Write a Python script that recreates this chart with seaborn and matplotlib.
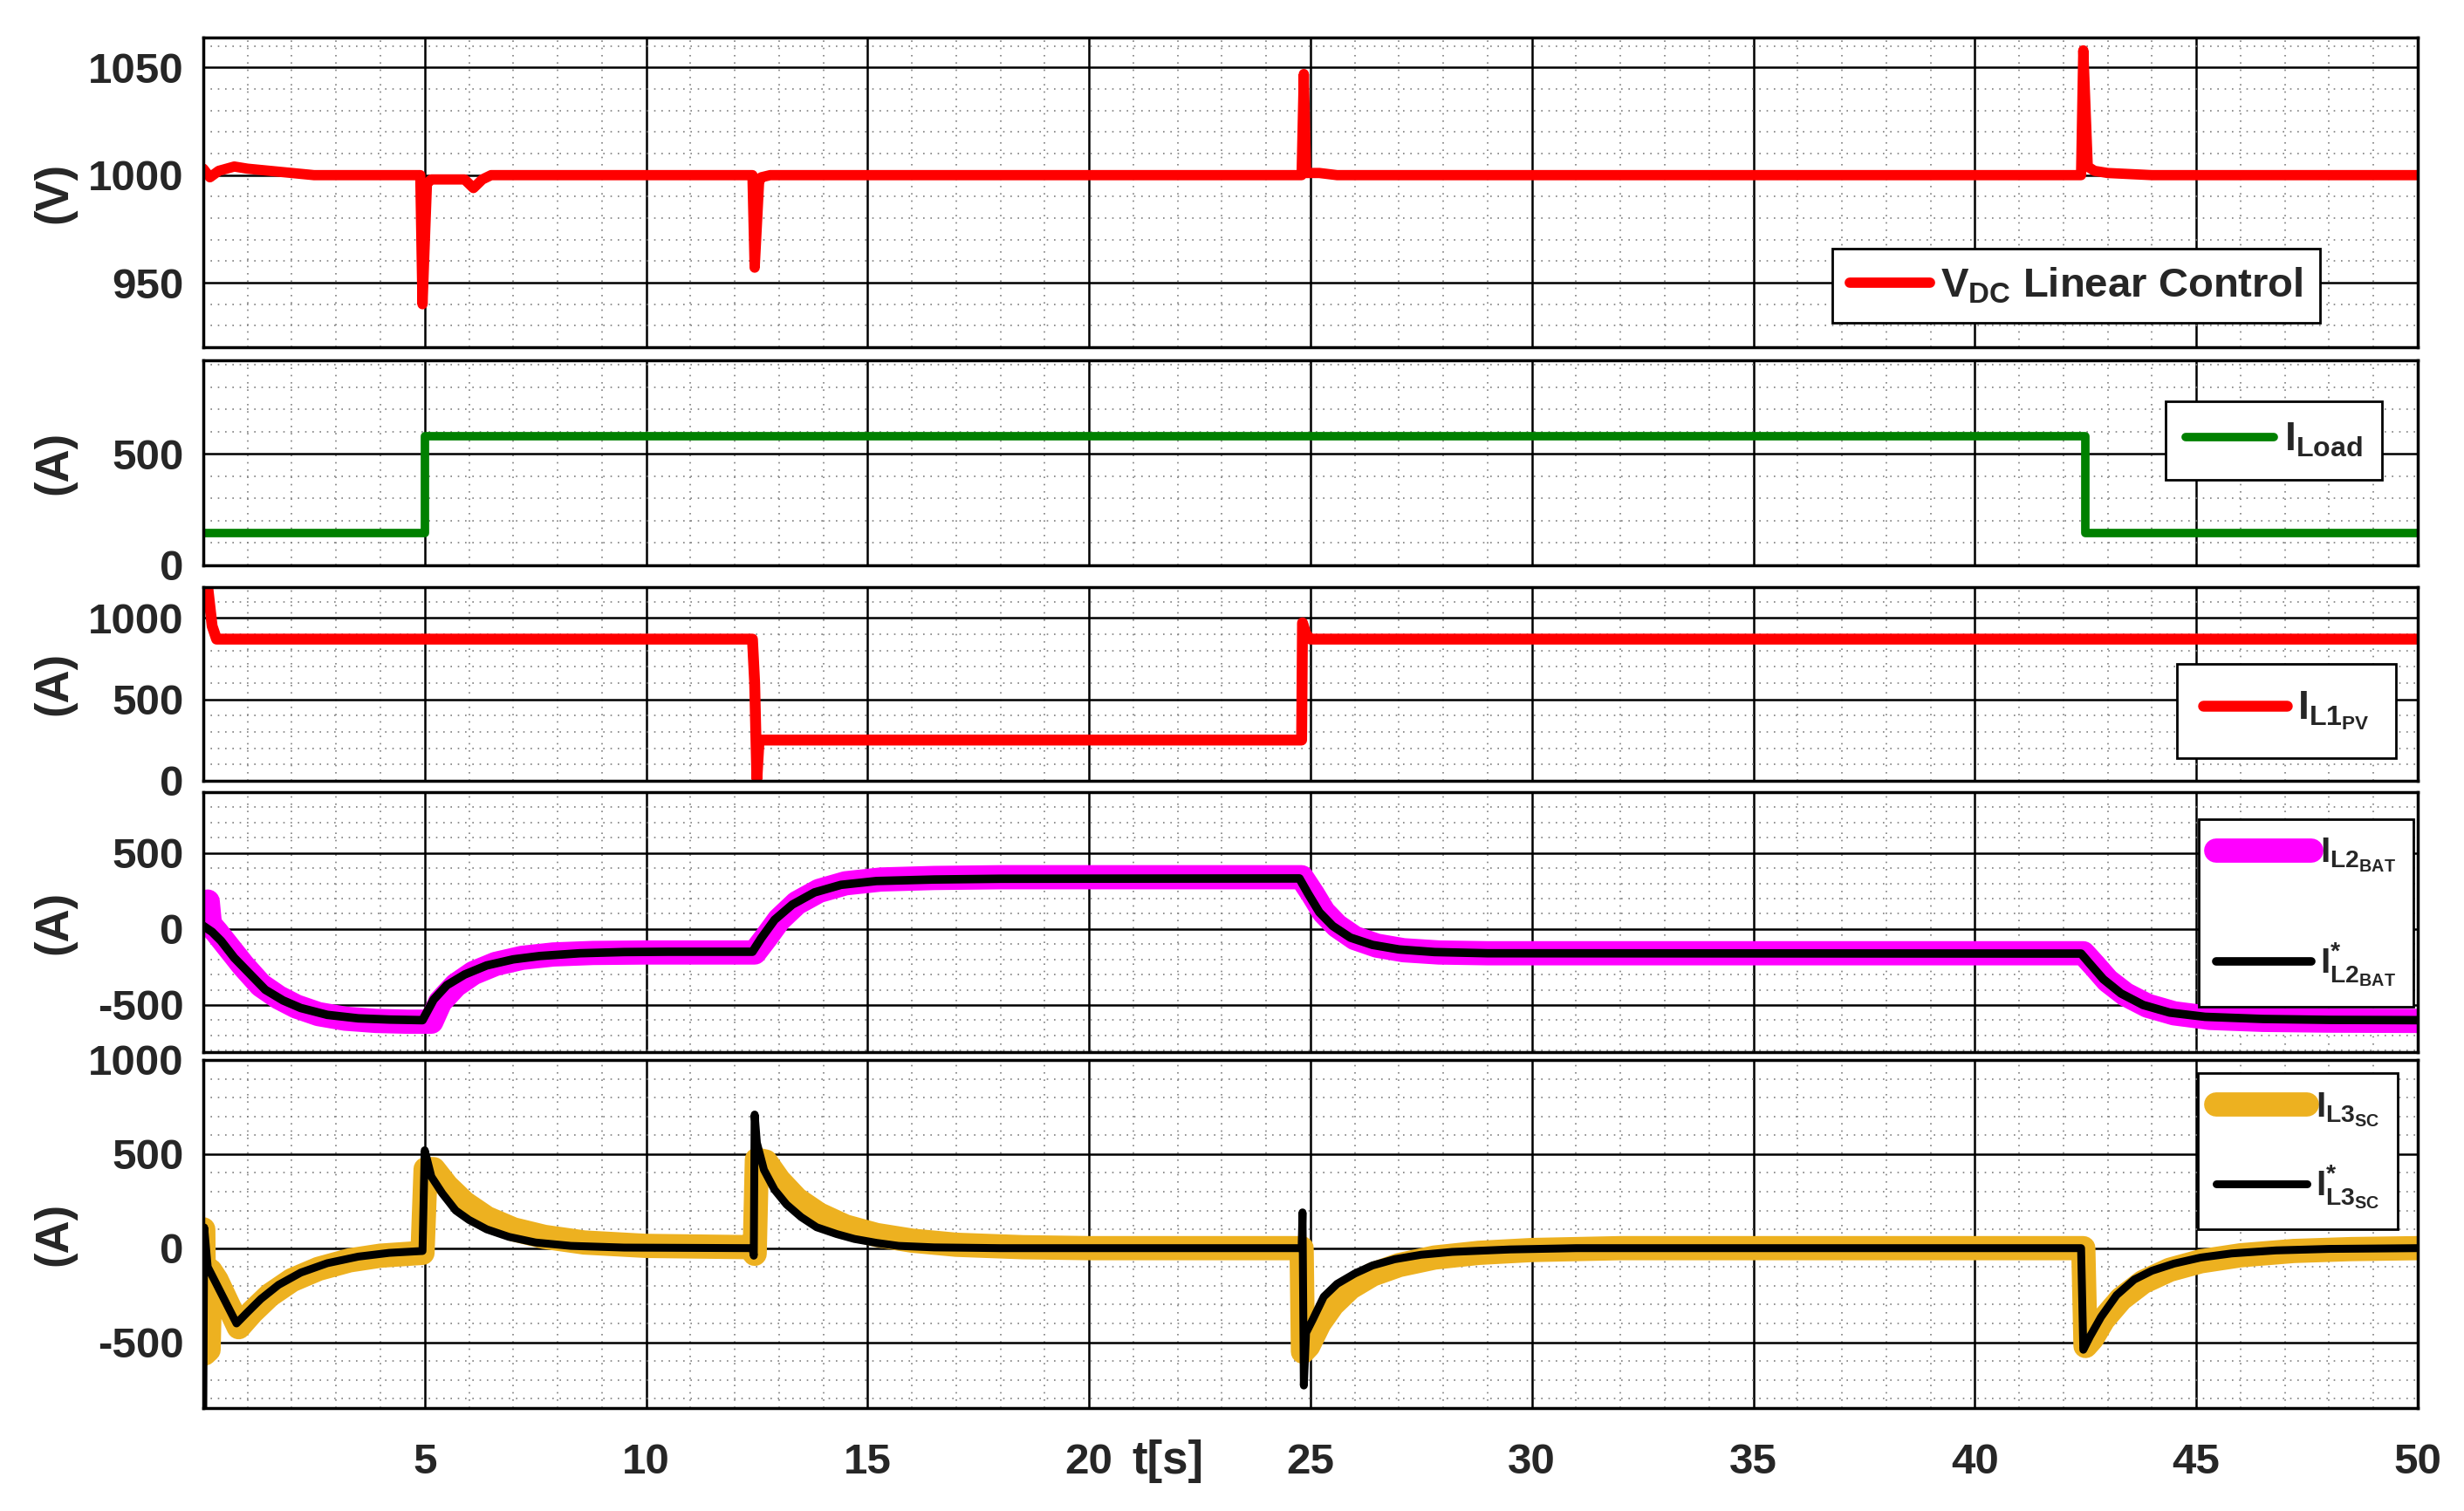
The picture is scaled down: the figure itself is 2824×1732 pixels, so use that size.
import matplotlib
matplotlib.use("Agg")
import matplotlib.pyplot as plt
from matplotlib.ticker import MultipleLocator
import seaborn as sns

# ---- values (time in s) ----
t_vdc = [0, 0.15, 0.35, 0.7, 1.0, 1.5, 2.0, 2.5, 4.9, 4.95, 5.05, 5.15, 5.5, 5.9,
         6.1, 6.3, 6.5, 12.4, 12.45, 12.55, 12.6, 12.8, 24.8, 24.85, 24.9, 25.2,
         25.6, 42.4, 42.45, 42.55, 42.7, 43.0, 43.5, 44.0, 50]
v_dc = [1003, 999, 1002, 1004, 1003, 1002, 1001, 1000, 1000, 940, 996, 998, 998, 998,
        994, 998, 1000, 1000, 957, 997, 999, 1000, 1000, 1047, 1001, 1001,
        1000, 1000, 1058, 1004, 1002, 1001, 1000.5, 1000, 1000]

t_load = [0, 5, 5, 42.5, 42.5, 50]
i_load = [145, 145, 580, 580, 145, 145]

t_pv = [0, 0.1, 0.2, 0.3, 12.4, 12.45, 12.5, 12.55, 24.8, 24.82, 24.9, 25.0, 50]
i_pv = [1190, 1190, 950, 870, 870, 600, 10, 250, 250, 970, 900, 870, 870]

t_bat = [0, 0.05, 0.1, 0.15, 0.3, 0.6, 0.9, 1.3, 1.7, 2.1, 2.6, 3.2, 3.9, 4.6, 5.15,
         5.35, 5.7, 6.1, 6.6, 7.2, 7.9, 8.8, 10, 12.45, 12.7, 13.0, 13.4, 13.9, 14.5,
         15.3, 16.5, 18, 24.8, 25.05, 25.3, 25.6, 26.0, 26.5, 27.1, 27.9, 29, 42.45,
         42.7, 43.0, 43.4, 43.9, 44.5, 45.3, 46.5, 48, 50]
i_bat = [80, 40, 180, 30, -20, -130, -240, -370, -450, -510, -560, -590, -605, -610, -610,
         -480, -370, -290, -230, -190, -168, -158, -155, -155, -60, 60, 170, 250, 300,
         325, 335, 340, 340, 230, 110, 20, -60, -110, -140, -155, -160, -160,
         -240, -340, -430, -505, -555, -585, -598, -603, -605]

t_bat_ref = [0, 0.2, 0.4, 0.7, 1.0, 1.4, 1.8, 2.2, 2.8, 3.5, 4.2, 4.95, 5.2, 5.5, 5.9,
             6.4, 7.0, 7.6, 8.5, 9.5, 10.5, 12.4, 12.6, 12.9, 13.3, 13.8, 14.4, 15.2,
             16.5, 18.0, 24.75, 24.95, 25.2, 25.5, 25.9, 26.4, 27.0, 27.8, 29.0, 42.4,
             42.6, 42.9, 43.3, 43.8, 44.4, 45.2, 46.5, 48.0, 50]
i_bat_ref = [20, -20, -78, -190, -280, -400, -470, -520, -565, -588, -596, -600, -465,
             -370, -300, -240, -200, -178, -160, -152, -150, -150, -60, 60, 160, 240,
             290, 315, 325, 330, 332, 230, 110, 20, -57, -105, -135, -152, -160, -162,
             -230, -330, -424, -500, -550, -578, -592, -598, -600]

t_sc = [0, 0.03, 0.12, 0.16, 0.3, 0.8, 1.1, 1.5, 2.0, 2.6, 3.3, 4.0, 4.95, 5.02, 5.2,
        5.5, 5.9, 6.4, 7.0, 7.7, 8.6, 10, 12.4, 12.45, 12.5, 12.7, 13.0, 13.4, 13.9,
        14.5, 15.2, 16.0, 17.0, 18.5, 20, 24.8, 24.83, 24.95, 25.2, 25.5, 25.9, 26.4,
        27.0, 27.8, 28.8, 30, 32, 42.45, 42.5, 42.65, 42.9, 43.3, 43.8, 44.4, 45.1,
        46.0, 47.2, 48.5, 50]
i_sc = [100, -560, -540, -120, -170, -420, -340, -250, -170, -110, -65, -40, -25, 420, 420,
        330, 240, 160, 100, 60, 30, 12, 5, -30, 470, 460, 360, 260, 180,
        115, 70, 40, 18, 5, 0, 0, -550, -520, -400, -300, -210, -140,
        -90, -50, -25, -10, 0, 0, -520, -480, -380, -270, -180, -115, -70,
        -38, -15, -5, 0]

t_sc_ref = [0, 0.02, 0.1, 0.75, 1.0, 1.3, 1.7, 2.2, 2.8, 3.5, 4.2, 4.95, 5.0, 5.15, 5.4,
            5.7, 6.0, 6.4, 6.9, 7.5, 8.3, 9.5, 12.4, 12.43, 12.45, 12.5, 12.66, 12.9,
            13.17, 13.5, 13.85, 14.3, 14.7, 15.2, 15.7, 16.5, 18, 24.8, 24.82, 24.85,
            24.9, 25.05, 25.3, 25.6, 26.0, 26.4, 26.9, 27.5, 28.2, 29.5, 31, 42.4,
            42.45, 42.6, 42.85, 43.2, 43.6, 44.0, 44.5, 45.1, 45.8, 46.8, 48, 50]
i_sc_ref = [-850, 110, -100, -400, -340, -270, -195, -130, -80, -45, -25, -15, 520, 380,
            290, 200, 150, 100, 60, 30, 12, 3, 0, -40, 710, 560, 416, 310,
            232, 165, 111, 75, 49, 28, 12, 4, 0, 0, 190, -730,
            -450, -380, -258, -190, -135, -92, -59, -35, -20, -7, 0, 0,
            -540, -470, -366, -250, -167, -120, -82, -50, -28, -12, -4, 0]

x_ticks = [0, 5, 10, 15, 20, 25, 30, 35, 40, 45, 50]
x_ticklabels = ["", "5", "10", "15", "20", "25", "30", "35", "40", "45", "50"]

RED = "#FF0000"
GREEN = "#008000"
MAGENTA = "#FF00FF"
ORANGE = "#EDB120"

sns.set_style("white")
plt.rcParams["font.family"] = ["Liberation Sans", "DejaVu Sans"]
plt.rcParams["font.weight"] = "bold"
plt.rcParams["axes.unicode_minus"] = False
plt.rcParams["mathtext.fontset"] = "custom"
plt.rcParams["mathtext.rm"] = "Liberation Sans:bold"
plt.rcParams["mathtext.it"] = "Liberation Sans:bold"
plt.rcParams["mathtext.bf"] = "Liberation Sans:bold"
plt.rcParams["mathtext.default"] = "rm"

fig = plt.figure(figsize=(28.24, 17.32), dpi=100)
LEFT, WIDTH = 0.0825, 0.8987


def style_axes(ax, ylim, yticks, minor, ylabel, xlabels=False):
    ax.set_xlim(0, 50)
    ax.set_ylim(*ylim)
    ax.set_xticks(x_ticks)
    ax.set_xticklabels(x_ticklabels)
    ax.set_yticks(yticks)
    ax.xaxis.set_minor_locator(MultipleLocator(1))
    ax.yaxis.set_minor_locator(MultipleLocator(minor))
    ax.grid(which="major", color="black", lw=1.8)
    ax.grid(which="minor", color="#7f7f7f", lw=1.2, linestyle=(0, (1, 4)))
    ax.set_axisbelow(True)
    ax.tick_params(which="both", length=0, labelsize=35.5, pad=16)
    ax.tick_params(axis="x", pad=29, labelbottom=xlabels)
    for s in ax.spines.values():
        s.set_color("black")
        s.set_linewidth(2.5)
    ax.set_xlabel("")
    ax.set_ylabel(ylabel, fontsize=38, fontweight="bold")
    ax.yaxis.set_label_coords(-0.0575, 0.5)


def add_legend(ax, anchor, size, hlen, bpad, spacing=0.5):
    leg = ax.legend(loc="upper right", bbox_to_anchor=anchor, borderaxespad=0,
                    fontsize=size, frameon=True, fancybox=False, framealpha=1,
                    edgecolor="black", handlelength=hlen, handletextpad=0.25,
                    labelspacing=spacing, borderpad=bpad)
    leg.get_frame().set_linewidth(2.0)
    leg.set_zorder(10)
    return leg


# panel 1: DC bus voltage
ax1 = fig.add_axes([LEFT, 0.7702, WIDTH, 0.2050])
sns.lineplot(x=t_vdc, y=v_dc, ax=ax1, estimator=None, sort=False, color=RED, lw=8.5,
             label=r"$V_{DC}$ Linear Control")
style_axes(ax1, (920, 1064), [950, 1000, 1050], 10, "(V)")
add_legend(ax1, (0.956, 0.318), 34, 1.95, 0.42)

# panel 2: load current
ax2 = fig.add_axes([LEFT, 0.6259, WIDTH, 0.1357])
sns.lineplot(x=t_load, y=i_load, ax=ax2, estimator=None, sort=False, color=GREEN, lw=7,
             label=r"$I_{Load}$")
style_axes(ax2, (0, 920), [0, 500], 100, "(A)")
add_legend(ax2, (0.984, 0.800), 33, 2.2, 0.5)

# panel 3: PV inductor current
ax3 = fig.add_axes([LEFT, 0.4833, WIDTH, 0.1282])
sns.lineplot(x=t_pv, y=i_pv, ax=ax3, estimator=None, sort=False, color=RED, lw=9,
             label=r"$I_{L1_{PV}}$")
style_axes(ax3, (0, 1190), [0, 500, 1000], 100, "(A)")
add_legend(ax3, (0.990, 0.604), 33, 2.1, 0.65)

# panel 4: battery current and reference
ax4 = fig.add_axes([LEFT, 0.3037, WIDTH, 0.1721])
sns.lineplot(x=t_bat, y=i_bat, ax=ax4, estimator=None, sort=False, color=MAGENTA, lw=20,
             label=r"$I_{L2_{BAT}}$")
sns.lineplot(x=t_bat_ref, y=i_bat_ref, ax=ax4, estimator=None, sort=False, color="black",
             lw=7, label=r"$I^{*}_{L2_{BAT}}$")
style_axes(ax4, (-810, 900), [-500, 0, 500], 100, "(A)")
add_legend(ax4, (0.998, 0.896), 29, 2.7, 0.5, spacing=1.9)

# panel 5: supercapacitor current and reference
ax5 = fig.add_axes([LEFT, 0.0681, WIDTH, 0.2304])
sns.lineplot(x=t_sc, y=i_sc, ax=ax5, estimator=None, sort=False, color=ORANGE, lw=20,
             label=r"$I_{L3_{SC}}$")
sns.lineplot(x=t_sc_ref, y=i_sc_ref, ax=ax5, estimator=None, sort=False, color="black",
             lw=6.5, label=r"$I^{*}_{L3_{SC}}$")
style_axes(ax5, (-850, 1000), [-500, 0, 500, 1000], 100, "(A)", xlabels=True)
add_legend(ax5, (0.991, 0.962), 29, 2.6, 0.5, spacing=1.0)

fig.text(1338 / 2824, 1 - 1675 / 1732, "t[s]", ha="center", va="center",
         fontsize=38, fontweight="bold")

fig.savefig("out.png", dpi=100)
